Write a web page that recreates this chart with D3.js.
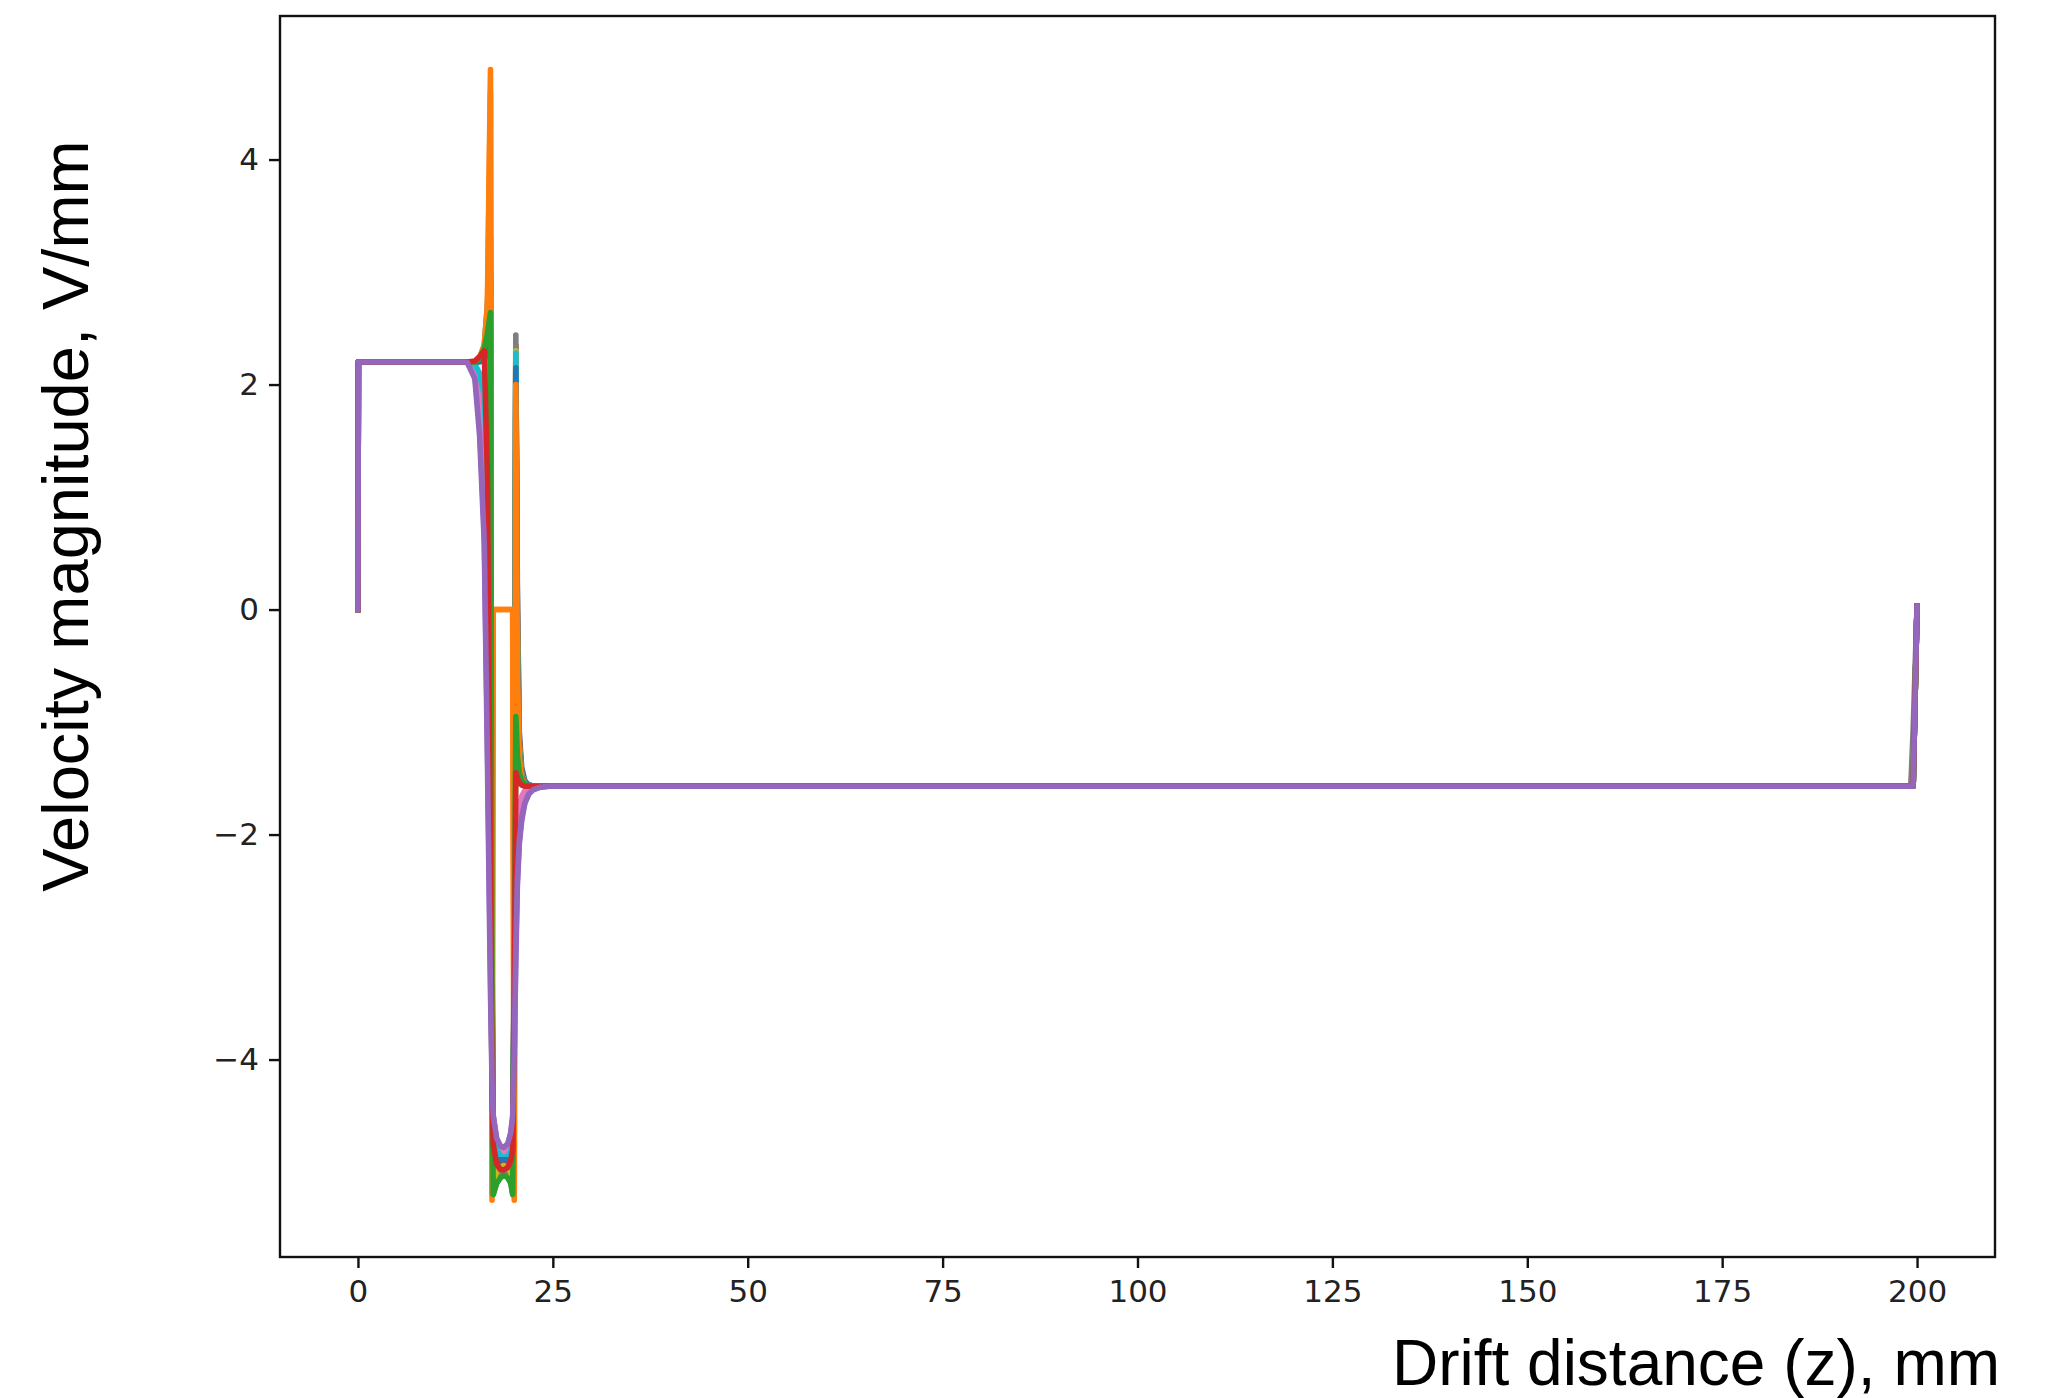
<!DOCTYPE html>
<html>
<head>
<meta charset="utf-8">
<script src="https://cdn.jsdelivr.net/npm/d3@7"></script>
<style>
  html, body { margin: 0; padding: 0; background: #fff; }
  svg { display: block; }
</style>
</head>
<body>
<svg id="chart" width="2060" height="1398"></svg>
<script>
// ---------- DATA ----------
const zGrid = [0, 0.05, 14.0, 15.0, 15.6, 16.2, 16.6, 17.0, 17.2, 17.35, 17.8, 18.3, 18.7, 19.2, 19.6, 19.85, 20.05, 20.25, 20.45, 20.7, 21.0, 21.4, 21.9, 22.5, 23.3, 24.5, 199.2, 199.5, 200.0];

const s0  = [0, 2.2, 2.2, 2.2, 2.22, 2.3, 2.5, 2.9, -3.5, -5.1, -5.02, -4.97, -4.95, -4.97, -5.02, -5.1, -3.2, 2.2, 0.2, -1.1, -1.4, -1.52, -1.56, -1.57, -1.57, -1.57, -1.57, -1.57, 0.03];
const s1  = [0, 2.2, 2.2, 2.2, 2.23, 2.32, 2.6, 4.6, -5.2, 0, 0, 0, 0, 0, 0, 0, -5.2, 1.9, -0.4, -1.3, -1.5, -1.55, -1.57, -1.57, -1.57, -1.57, -1.57, -1.57, 0.03];
const s2  = [0, 2.2, 2.2, 2.2, 2.21, 2.26, 2.4, 2.5, -3.0, -5.0, -4.98, -4.95, -4.94, -4.95, -4.98, -5.02, -3.5, -0.6, -1.2, -1.42, -1.5, -1.55, -1.57, -1.57, -1.57, -1.57, -1.57, -1.57, 0.03];
const s3  = [0, 2.2, 2.2, 2.2, 2.21, 2.25, 2.35, 2.4, -3.2, -4.95, -4.93, -4.92, -4.91, -4.92, -4.93, -4.96, -3.0, 2.35, 0.0, -1.15, -1.45, -1.53, -1.56, -1.57, -1.57, -1.57, -1.57, -1.57, 0.03];
const s4  = [0, 2.2, 2.2, 2.08, 1.65, 0.7, -1.1, -3.2, -4.1, -4.5, -4.72, -4.79, -4.8, -4.77, -4.66, -4.52, -4.0, -3.1, -2.45, -2.08, -1.88, -1.72, -1.64, -1.6, -1.58, -1.57, -1.57, -1.57, 0.03];
const s5  = [0, 2.2, 2.2, 2.2, 2.22, 2.3, 2.55, 3.0, -4.0, -5.15, -5.05, -5.0, -4.98, -5.0, -5.05, -5.15, -3.0, 1.5, -0.6, -1.3, -1.48, -1.54, -1.56, -1.57, -1.57, -1.57, -1.57, -1.45, 0.03];
const s6  = [0, 2.2, 2.2, 2.15, 1.95, 1.5, 0.2, -2.4, -3.8, -4.5, -4.75, -4.82, -4.83, -4.82, -4.76, -4.6, -3.8, -2.4, -1.9, -1.75, -1.66, -1.61, -1.59, -1.58, -1.57, -1.57, -1.57, -1.57, 0.03];
const s7  = [0, 2.2, 2.2, 2.2, 2.23, 2.35, 2.7, 3.3, -4.5, -5.2, -5.08, -5.03, -5.01, -5.03, -5.08, -5.2, -2.5, 2.44, -0.3, -1.25, -1.47, -1.54, -1.56, -1.57, -1.57, -1.57, -1.57, -1.07, 0.03];
const s8  = [0, 2.2, 2.2, 2.2, 2.22, 2.3, 2.55, 2.8, -3.8, -5.08, -5.0, -4.96, -4.94, -4.96, -5.0, -5.08, -3.1, 2.3, -0.1, -1.2, -1.46, -1.54, -1.56, -1.57, -1.57, -1.57, -1.57, -1.57, 0.03];
const s9  = [0, 2.2, 2.2, 2.18, 2.1, 1.9, 1.2, -1.2, -3.4, -4.6, -4.8, -4.86, -4.87, -4.86, -4.82, -4.7, -3.5, 2.28, -0.5, -1.3, -1.5, -1.55, -1.57, -1.57, -1.57, -1.57, -1.57, -1.57, 0.03];
const s10 = [0, 2.2, 2.2, 2.2, 2.2, 2.22, 2.35, 2.5, -3.0, -4.9, -4.9, -4.89, -4.89, -4.89, -4.9, -4.92, -3.2, 2.15, -0.3, -1.25, -1.48, -1.54, -1.56, -1.57, -1.57, -1.57, -1.57, -1.57, 0.03];
const s11 = [0, 2.2, 2.2, 2.2, 2.24, 2.35, 2.7, 4.8, -5.25, 0, 0, 0, 0, 0, 0, 0, -5.25, 2.0, -0.5, -1.3, -1.5, -1.55, -1.57, -1.57, -1.57, -1.57, -1.57, -1.57, 0.03];
const s12 = [0, 2.2, 2.2, 2.2, 2.23, 2.32, 2.45, 2.64, -3.8, -5.2, -5.1, -5.05, -5.03, -5.05, -5.1, -5.2, -3.2, -0.95, -1.3, -1.45, -1.52, -1.55, -1.57, -1.57, -1.57, -1.57, -1.57, -1.57, 0.03];
const s13 = [0, 2.2, 2.2, 2.21, 2.25, 2.3, 1.2, -2.3, -4.2, -4.75, -4.93, -4.98, -4.98, -4.96, -4.9, -4.8, -3.6, -1.45, -1.5, -1.54, -1.56, -1.57, -1.57, -1.57, -1.57, -1.57, -1.57, -1.57, 0.03];
const s14 = [0, 2.2, 2.2, 2.05, 1.55, 0.6, -1.3, -3.4, -4.2, -4.5, -4.7, -4.77, -4.78, -4.75, -4.65, -4.5, -3.9, -3.0, -2.4, -2.05, -1.85, -1.72, -1.64, -1.6, -1.58, -1.57, -1.57, -1.57, 0.03];

const seriesList = [s0, s1, s2, s3, s4, s5, s6, s7, s8, s9, s10, s11, s12, s13, s14];
const seriesColors = ["#1f77b4", "#ff7f0e", "#2ca02c", "#d62728", "#9467bd", "#8c564b", "#e377c2", "#7f7f7f", "#bcbd22", "#17becf"];

const xTicks = [0, 25, 50, 75, 100, 125, 150, 175, 200];
const yTicks = [-4, -2, 0, 2, 4];
const xDomain = [-10, 210];
const yDomain = [-5.755, 5.276];
const xLabel = "Drift distance (z), mm";
const yLabel = "Velocity magnitude, V/mm";

// ---------- LAYOUT ----------
const L = 280, R = 1995, T = 16, B = 1257;
const svg = d3.select("#chart");

const x = d3.scaleLinear().domain(xDomain).range([L, R]);
const y = d3.scaleLinear().domain(yDomain).range([B, T]);

svg.append("defs").append("clipPath").attr("id", "clip")
  .append("rect").attr("x", L).attr("y", T).attr("width", R - L).attr("height", B - T);

const line = d3.line().x(d => x(d[0])).y(d => y(d[1]));

const g = svg.append("g").attr("clip-path", "url(#clip)");
seriesList.forEach((s, i) => {
  const pts = zGrid.map((z, k) => [z, s[k]]);
  g.append("path")
    .attr("d", line(pts))
    .attr("fill", "none")
    .attr("stroke", seriesColors[i % seriesColors.length])
    .attr("stroke-width", 5.6)
    .attr("stroke-linejoin", "round")
    .attr("stroke-linecap", "square");
});

// axes
const tickFont = "'DejaVu Sans', sans-serif";
const xAxis = d3.axisBottom(x).tickValues(xTicks).tickSize(11).tickPadding(12)
  .tickFormat(d3.format("d"));
const yAxis = d3.axisLeft(y).tickValues(yTicks).tickSize(11).tickPadding(10)
  .tickFormat(d => d < 0 ? "\u2212" + Math.abs(d) : String(d));

const gx = svg.append("g").attr("transform", `translate(0,${B})`).call(xAxis);
const gy = svg.append("g").attr("transform", `translate(${L},0)`).call(yAxis);
[gx, gy].forEach(a => {
  a.select(".domain").remove();
  a.selectAll(".tick line").attr("stroke", "#111").attr("stroke-width", 2.4);
  a.selectAll(".tick text").attr("fill", "#222").style("font-family", tickFont).style("font-size", "31px");
});

// frame
svg.append("rect").attr("x", L).attr("y", T).attr("width", R - L).attr("height", B - T)
  .attr("fill", "none").attr("stroke", "#111").attr("stroke-width", 2.4);

// axis labels
const labelFont = "'Liberation Sans', Arial, Helvetica, sans-serif";
svg.append("text").attr("x", 2000).attr("y", 1385).attr("text-anchor", "end")
  .style("font-family", labelFont).style("font-size", "64px").attr("fill", "#000").text(xLabel);
svg.append("text").attr("transform", "translate(88,516) rotate(-90)").attr("text-anchor", "middle")
  .style("font-family", labelFont).style("font-size", "65px").attr("fill", "#000").text(yLabel);
</script>
</body>
</html>
